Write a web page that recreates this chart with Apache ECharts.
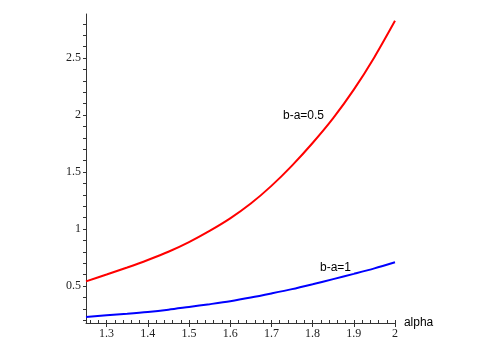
<!DOCTYPE html>
<html>
<head>
<meta charset="utf-8">
<script src="https://cdn.jsdelivr.net/npm/echarts@6/dist/echarts.min.js"></script>
<style>
  html, body { margin: 0; padding: 0; background: #fff; }
  #chart { width: 491px; height: 349px; }
</style>
</head>
<body>
<div id="chart"></div>
<script>
// values
const alpha = [1.25, 1.3, 1.35, 1.4, 1.45, 1.5, 1.55, 1.6, 1.65, 1.7, 1.75, 1.8, 1.85, 1.9, 1.95, 2.0]
const halfGap = [0.54, 0.60, 0.662, 0.728, 0.80, 0.885, 0.983, 1.093, 1.223, 1.378, 1.556, 1.754, 1.972, 2.222, 2.507, 2.826]
const unitGap = [0.228, 0.242, 0.256, 0.272, 0.292, 0.316, 0.340, 0.366, 0.398, 0.434, 0.472, 0.515, 0.560, 0.606, 0.654, 0.708]

const xLabels = [1.3, 1.4, 1.5, 1.6, 1.7, 1.8, 1.9, 2]
const yLabels = [0.5, 1, 1.5, 2, 2.5]

// minor ticks: every 0.02 on x, every 0.1 on y
const xMinor = []
for (let i = 63; i <= 100; i++) xMinor.push(+(i * 0.02).toFixed(2))
const yMinor = []
for (let i = 2; i <= 28; i++) yMinor.push(+(i * 0.1).toFixed(1))

const pairs = (ys) => alpha.map((x, i) => [x, ys[i]])

const axisColor = '#333'
const serif = 'Liberation Serif'

const chart = echarts.init(document.getElementById('chart'))
chart.setOption({
  animation: false,
  grid: { left: 86, right: 96, top: 14, bottom: 26 },
  xAxis: [
    {
      type: 'value',
      min: 1.25,
      max: 2,
      name: 'alpha',
      nameLocation: 'end',
      nameGap: 6,
      nameTextStyle: { fontFamily: 'Liberation Sans', fontSize: 12, color: '#000' },
      splitLine: { show: false },
      axisLine: { onZero: false, lineStyle: { color: axisColor, width: 1 } },
      axisTick: { show: true, length: 4, customValues: xLabels, lineStyle: { color: axisColor } },
      axisLabel: {
        customValues: xLabels,
        margin: 5,
        fontFamily: serif,
        fontSize: 12,
        color: '#222'
      }
    },
    {
      type: 'value',
      min: 1.25,
      max: 2,
      position: 'bottom',
      splitLine: { show: false },
      axisLine: { show: false },
      axisTick: { show: true, inside: true, length: 3, customValues: xMinor, lineStyle: { color: axisColor } },
      axisLabel: { show: false }
    }
  ],
  yAxis: {
    type: 'value',
    min: 0.175,
    max: 2.886,
    splitLine: { show: false },
    axisLine: { show: true, onZero: false, lineStyle: { color: axisColor, width: 1 } },
    axisTick: { show: true, length: 3, customValues: yMinor, lineStyle: { color: axisColor } },
    axisLabel: {
      customValues: yLabels,
      margin: 5,
      fontFamily: serif,
      fontSize: 12,
      color: '#222'
    }
  },
  graphic: [
    {
      type: 'text',
      left: 283,
      top: 110,
      style: { text: 'b-a=0.5', fontFamily: 'Liberation Sans', fontSize: 12, fill: '#000' }
    },
    {
      type: 'text',
      left: 320,
      top: 262,
      style: { text: 'b-a=1', fontFamily: 'Liberation Sans', fontSize: 12, fill: '#000' }
    }
  ],
  series: [
    {
      type: 'line',
      data: pairs(halfGap),
      smooth: 0.3,
      symbol: 'none',
      lineStyle: { color: '#ff0000', width: 2 }
    },
    {
      type: 'line',
      data: pairs(unitGap),
      smooth: 0.3,
      symbol: 'none',
      lineStyle: { color: '#0000ff', width: 2 }
    }
  ]
})
</script>
</body>
</html>
